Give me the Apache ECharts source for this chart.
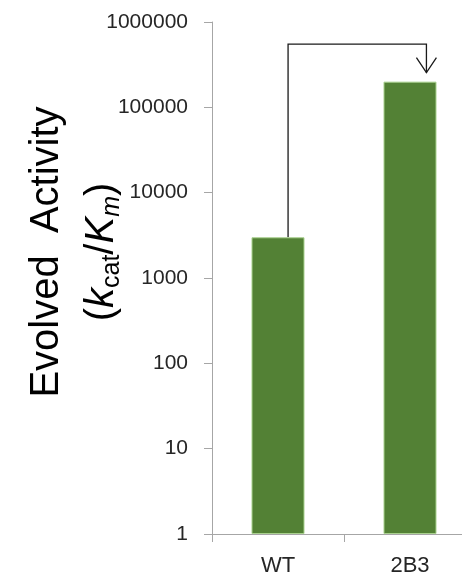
<!DOCTYPE html>
<html>
<head>
<meta charset="utf-8">
<script src="https://cdn.jsdelivr.net/npm/echarts@6/dist/echarts.min.js"></script>
<style>
  html, body { margin: 0; padding: 0; background: #fff; }
  #chart { width: 462px; height: 577px; }
</style>
</head>
<body>
<div id="chart"></div>
<script>
// Enzyme variants and their catalytic efficiency (kcat/Km)
const categories = ['WT', '2B3'];
const activity = [3000, 200000];
// Log-scale axis range and decade ticks
const yMin = 1;
const yMax = 1000000;
// Bracket arrow from the wild type to the evolved variant
const bracketFrom = 'WT';
const bracketTo = '2B3';
const bracketTopValue = 550000;

const FONT = '"Liberation Sans", Arial, sans-serif';
const AXIS_COLOR = '#a6a6a6';
const BAR_WIDTH = 53;

const chart = echarts.init(document.getElementById('chart'), null, { renderer: 'canvas' });

const option = {
  animation: false,
  backgroundColor: '#ffffff',
  // The plot area runs a little past the right edge of the canvas
  grid: {
    left: 212, top: 22, width: 264, bottom: 43,
    containLabel: false, outerBoundsMode: 'none'
  },
  xAxis: {
    type: 'category',
    data: categories,
    boundaryGap: true,
    axisLine: { show: true, lineStyle: { color: AXIS_COLOR, width: 1 } },
    axisTick: { show: true, length: 8, alignWithLabel: false, lineStyle: { color: AXIS_COLOR } },
    axisLabel: { color: '#262626', fontSize: 22, fontFamily: FONT, margin: 21 },
    splitLine: { show: false }
  },
  yAxis: {
    type: 'log',
    logBase: 10,
    min: yMin,
    max: yMax,
    axisLine: { show: true, lineStyle: { color: AXIS_COLOR, width: 1 } },
    axisTick: { show: true, length: 8, inside: false, lineStyle: { color: AXIS_COLOR } },
    axisLabel: {
      color: '#262626', fontSize: 21, fontFamily: FONT, margin: 24,
      formatter: v => String(Math.round(v))
    },
    splitLine: { show: false },
    minorTick: { show: false }
  },
  series: [{
    type: 'bar',
    data: activity,
    barWidth: BAR_WIDTH,
    itemStyle: { color: '#538135', borderColor: '#a9d18e', borderWidth: 1 }
  }],
  graphic: [{
    type: 'text',
    x: 74,
    y: 252,
    rotation: Math.PI / 2,
    style: {
      text: '{m|Evolved  Activity}\n{m|(}{i|k}{s|cat}{m|/}{i|K}{si|m}{m|)}',
      align: 'center',
      verticalAlign: 'middle',
      fill: '#000000',
      rich: {
        m: { fontSize: 40, fontFamily: FONT, lineHeight: 55, fill: '#000' },
        i: { fontSize: 40, fontFamily: FONT, fontStyle: 'italic', lineHeight: 55, fill: '#000' },
        s: { fontSize: 25, fontFamily: FONT, lineHeight: 55, padding: [22, 0, 0, 0], fill: '#000' },
        si: { fontSize: 25, fontFamily: FONT, fontStyle: 'italic', lineHeight: 55, padding: [22, 0, 0, 0], fill: '#000' }
      }
    }
  }]
};

chart.setOption(option);

// Bracket arrow drawn from axis coordinates
const fromIdx = categories.indexOf(bracketFrom);
const toIdx = categories.indexOf(bracketTo);
const start = chart.convertToPixel({ seriesIndex: 0 }, [fromIdx, activity[fromIdx]]);
const endBar = chart.convertToPixel({ seriesIndex: 0 }, [toIdx, activity[toIdx]]);
const topPt = chart.convertToPixel({ seriesIndex: 0 }, [fromIdx, bracketTopValue]);
const x0 = start[0] + BAR_WIDTH * 0.19;
const x1 = endBar[0] + BAR_WIDTH * 0.31;
const yTop = topPt[1];
const yTip = endBar[1] - 9;

chart.setOption({
  graphic: [
    option.graphic[0],
    {
      type: 'polyline',
      shape: { points: [[x0, start[1]], [x0, yTop], [x1, yTop], [x1, yTip]] },
      style: { stroke: '#1a1a1a', lineWidth: 1.3, fill: null }
    },
    {
      type: 'polyline',
      shape: { points: [[x1 - 10, yTip - 15], [x1, yTip], [x1 + 10, yTip - 15]] },
      style: { stroke: '#1a1a1a', lineWidth: 1.3, fill: null }
    }
  ]
});
</script>
</body>
</html>
